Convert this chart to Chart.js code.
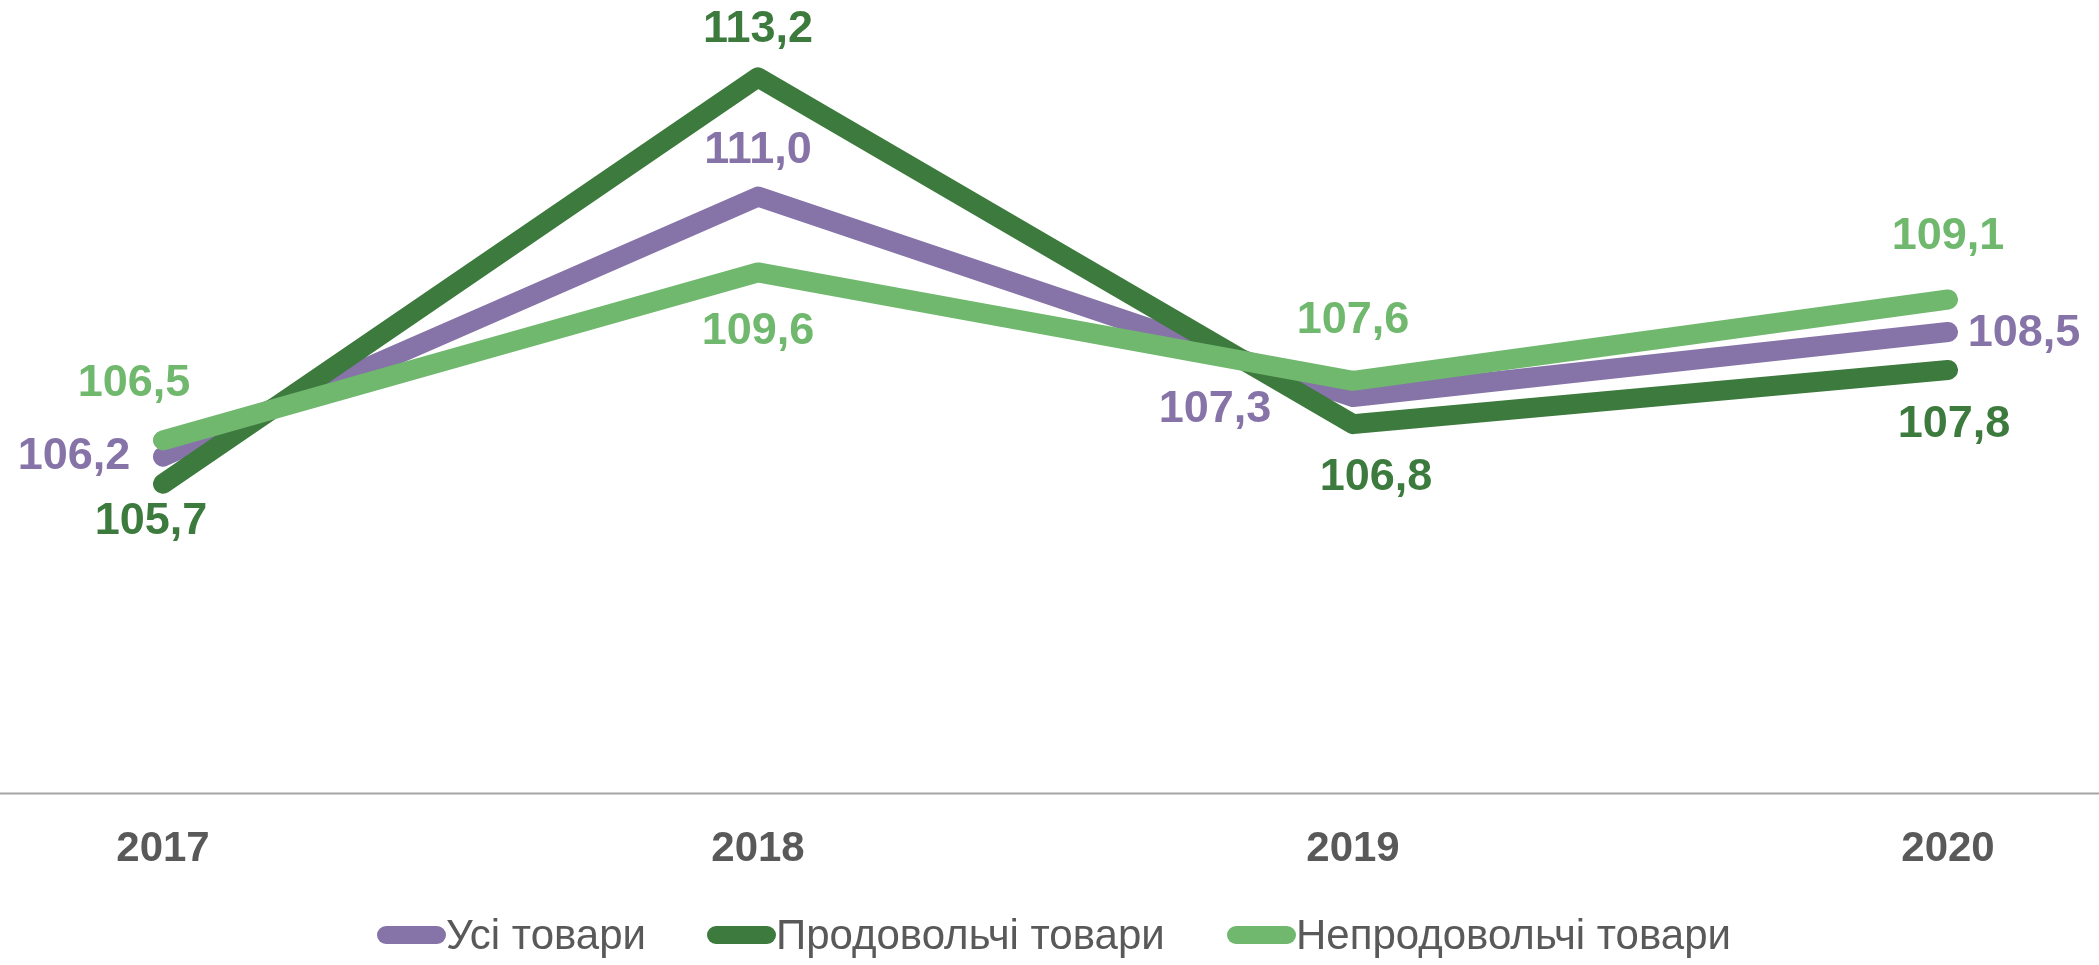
<!DOCTYPE html>
<html>
<head>
<meta charset="utf-8">
<script src="https://cdn.jsdelivr.net/npm/chart.js@4/dist/chart.umd.min.js"></script>
<style>
  html, body { margin: 0; padding: 0; background: #fff; }
  .wrap { position: relative; width: 2099px; height: 965px; }
  .legend { position: absolute; left: 0; top: 935px; width: 100%; height: 0; }
  .legend-item { position: absolute; top: 0; display: flex; align-items: center; transform: translateY(-50%);
    font-family: "Liberation Sans", Arial, sans-serif; font-size: 42px; color: #595959; white-space: nowrap; }
  .legend-mark { display: inline-block; width: 69px; height: 18px; border-radius: 9px; margin-right: 0; }
</style>
</head>
<body>
<div class="wrap">
  <canvas id="chart"></canvas>
  <div class="legend" id="legend"></div>
</div>
<script>
const years = ['2017', '2018', '2019', '2020'];
const seriesNames = ['Усі товари', 'Продовольчі товари', 'Непродовольчі товари'];
const allGoods = [106.2, 111.0, 107.3, 108.5];
const foodGoods = [105.7, 113.2, 106.8, 107.8];
const nonFoodGoods = [106.5, 109.6, 107.6, 109.1];

const COLORS = ['#8673A8', '#3D7A3D', '#70B86E'];
const TEXT = '#595959';

// label placement around each point (px), per series
const labelShift = [
  [[-89, 0], [0, -46], [-138, 13], [76, 2]],
  [[-12, 38], [0, -48], [23, 53], [6, 55]],
  [[-29, -57], [0, 59], [0, -60], [0, -63]]
];
const legendLeft = [377, 707, 1227];

const fmt = v => v.toFixed(1).replace('.', ',');

const valueLabels = {
  id: 'valueLabels',
  afterDatasetsDraw(chart) {
    const ctx = chart.ctx;
    ctx.save();
    ctx.font = 'bold 45px "Liberation Sans", Arial, sans-serif';
    ctx.textAlign = 'center';
    ctx.textBaseline = 'middle';
    chart.data.datasets.forEach((ds, di) => {
      const meta = chart.getDatasetMeta(di);
      ctx.fillStyle = ds.borderColor;
      meta.data.forEach((pt, i) => {
        const [dx, dy] = labelShift[di][i];
        ctx.fillText(fmt(ds.data[i]), pt.x + dx, pt.y + dy);
      });
    });
    ctx.restore();
  }
};

const baseLine = {
  id: 'baseLine',
  beforeDatasetsDraw(chart) {
    const ctx = chart.ctx;
    const y = Math.round(chart.scales.y.getPixelForValue(100)) + 0.5;
    ctx.save();
    ctx.strokeStyle = '#A6A6A6';
    ctx.lineWidth = 2;
    ctx.beginPath();
    ctx.moveTo(0, y);
    ctx.lineTo(chart.width, y);
    ctx.stroke();
    ctx.restore();
  }
};

const mk = (label, data, color, order) => ({
  label, data, order,
  borderColor: color, backgroundColor: color,
  borderWidth: 20, borderCapStyle: 'round', borderJoinStyle: 'round',
  pointRadius: 0, pointHoverRadius: 0, tension: 0, fill: false
});

new Chart(document.getElementById('chart').getContext('2d'), {
  type: 'line',
  data: {
    labels: years,
    datasets: [
      mk(seriesNames[0], allGoods, COLORS[0], 3),
      mk(seriesNames[1], foodGoods, COLORS[1], 2),
      mk(seriesNames[2], nonFoodGoods, COLORS[2], 1)
    ]
  },
  options: {
    responsive: true, maintainAspectRatio: false, animation: false,
    layout: { autoPadding: false, padding: { left: 163, right: 151, top: 34, bottom: 58 } },
    plugins: { legend: { display: false }, tooltip: { enabled: false } },
    scales: {
      x: {
        offset: false,
        grid: { display: false, drawTicks: false },
        border: { display: false },
        ticks: { color: TEXT, padding: 32, autoSkip: false, maxRotation: 0,
          font: { family: '"Liberation Sans", Arial, sans-serif', size: 42, weight: 'bold' } }
      },
      y: { display: false, min: 100, max: 114 }
    }
  },
  plugins: [baseLine, valueLabels]
});

const legend = document.getElementById('legend');
seriesNames.forEach((name, i) => {
  const item = document.createElement('div');
  item.className = 'legend-item';
  item.style.left = legendLeft[i] + 'px';
  item.innerHTML = `<span class="legend-mark" style="background:${COLORS[i]}"></span><span>${name}</span>`;
  legend.appendChild(item);
});
</script>
</body>
</html>
